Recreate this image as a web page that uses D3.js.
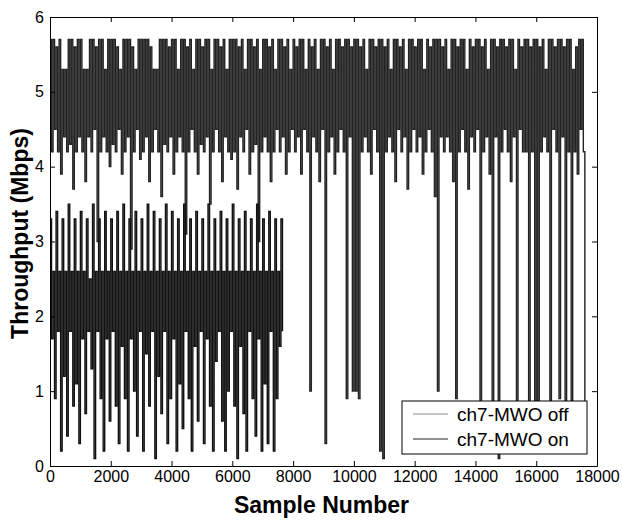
<!doctype html>
<html lang="en">
  <head>
    <meta charset="utf-8">
    <title>Throughput vs Sample Number</title>
    <style>
      body{
        margin: 0;
        background: #fff;
      }
      #chart text{
        font-family: "Liberation Sans", Arial, sans-serif;
        fill: #000;
      }
      #chart .tick text{
        font-size: 16px;
      }
    </style>
  </head>
  <body>
    <svg id="chart" width="622" height="525"></svg>
    <script src="https://d3js.org/d3.v7.min.js"></script>
    <script>

      //values every 50 samples
      var sampleStep = 50;

      //ch7-MWO off, samples 0 .. 17600 (Mbps)
      var mwoOff = [
        5.7,4.2,5.7,4.5,5.6,4.2,5.7,3.9,5.3,4.4,5.3,4.2,5.7,4.3,5.7,3.7,5.6,4.2,5.7,4.4,
        5.7,4.2,5.3,3.8,5.3,4.4,5.7,4.2,5.7,4.5,5.6,3.0,5.7,4.2,5.7,4.4,5.3,4.2,5.7,4.0,
        5.7,4.3,5.7,4.2,5.6,4.5,5.3,3.9,5.7,4.2,5.7,4.4,5.7,2.9,5.6,4.2,5.3,4.5,5.7,4.1,
        5.7,4.2,5.7,4.4,5.7,3.8,5.6,4.2,5.3,4.5,5.3,4.2,5.7,3.6,5.7,4.3,5.7,4.2,5.6,4.4,
        5.7,3.9,5.7,4.2,5.3,4.4,5.7,4.2,5.7,3.1,5.6,4.2,5.7,4.5,5.3,4.2,5.7,3.9,5.7,4.3,
        5.6,4.2,5.7,4.4,5.7,3.5,5.3,4.2,5.7,4.5,5.7,4.2,5.6,3.8,5.7,4.4,5.3,4.2,5.7,4.1,
        5.7,4.2,5.7,3.7,5.6,4.4,5.7,4.2,5.3,4.5,5.7,3.9,5.7,4.2,5.6,4.3,5.7,3.0,5.3,4.2,
        5.7,4.4,5.7,4.2,5.6,3.8,5.7,4.2,5.3,4.5,5.7,4.2,5.7,4.4,5.6,3.9,5.7,4.2,5.3,4.5,
        5.7,4.2,5.6,4.4,5.7,3.9,5.7,4.5,5.3,4.2,5.7,1.0,5.6,4.4,5.7,4.2,5.3,3.8,5.7,4.5,
        5.7,0.3,5.6,4.2,5.7,4.4,5.3,3.9,5.7,4.2,5.7,4.5,5.6,4.2,5.7,0.9,5.7,4.4,5.6,1.0,
        5.7,1.0,5.7,0.9,5.6,4.2,5.7,4.4,5.3,4.2,5.7,3.9,5.7,4.5,5.6,4.2,5.7,0.2,5.7,0.1,
        5.6,4.2,5.7,4.4,5.3,4.2,5.7,3.8,5.7,4.5,5.6,4.2,5.7,4.4,5.3,3.7,5.7,4.2,5.7,4.5,
        5.6,4.2,5.7,4.4,5.7,3.9,5.3,4.2,5.7,4.5,5.6,4.2,5.7,3.6,5.7,1.0,5.7,4.4,5.6,4.2,
        5.7,4.4,5.3,4.2,5.7,3.8,5.7,0.9,5.6,4.2,5.7,4.5,5.7,4.2,5.3,3.7,5.7,4.4,5.6,4.2,
        5.7,4.5,5.7,0.5,5.6,4.2,5.7,4.4,5.3,3.9,5.7,0.7,5.7,4.4,5.6,0.1,5.7,4.2,5.7,4.5,
        5.6,4.2,5.7,3.8,5.7,4.4,5.3,0.8,5.7,4.5,5.6,4.2,5.7,4.2,5.7,0.6,5.6,4.2,5.7,0.4,
        5.7,0.8,5.6,4.2,5.7,4.4,5.3,4.2,5.7,0.3,5.7,4.5,5.6,4.2,5.7,0.9,5.7,4.4,5.6,0.2,
        5.7,4.2,5.7,0.6,5.3,4.2,5.6,3.9,5.7,4.5,5.7,4.2,0.4
      ];

      //ch7-MWO on, samples 0 .. 7650 (Mbps)
      var mwoOn = [
        3.3,1.7,2.6,0.9,3.4,1.8,2.6,0.2,3.3,1.2,2.6,0.4,3.5,1.8,2.6,0.8,3.3,1.1,2.6,0.3,
        3.4,1.7,2.6,0.7,3.3,1.8,2.5,1.3,3.5,0.1,2.6,1.8,3.3,0.9,2.6,0.2,3.4,1.7,2.6,0.6,
        3.3,1.8,2.6,0.8,3.4,0.3,2.6,1.6,3.5,0.9,2.6,0.2,3.3,1.7,2.6,1.0,3.4,0.4,2.6,1.8,
        3.3,0.2,2.6,1.5,3.5,0.8,2.6,1.8,3.4,0.1,2.6,1.2,3.3,0.7,2.6,1.8,3.5,0.3,2.6,0.9,
        3.4,1.7,2.6,0.2,3.3,1.1,2.6,0.5,3.5,1.8,2.6,0.9,3.3,0.2,2.6,1.6,3.4,0.6,2.6,1.8,
        3.3,0.3,2.6,1.7,3.5,0.8,2.6,0.2,3.3,1.4,2.6,1.8,3.4,0.6,2.6,0.2,3.3,1.0,2.6,1.8,
        3.5,0.8,2.6,0.1,3.3,1.6,2.6,0.7,3.4,0.2,2.6,1.8,3.3,0.9,2.6,0.4,3.5,1.7,2.6,0.2,
        3.3,1.1,2.6,0.3,3.4,1.8,2.6,0.2,3.3,0.9,2.6,1.6,3.3,1.8
      ];

      var seriesNames = ["ch7-MWO off", "ch7-MWO on"];
      var seriesColors = ["#222222", "#111111"];
      var legendColors = ["#8a8a8a", "#222222"];

      var xTicks = [0, 2000, 4000, 6000, 8000, 10000, 12000, 14000, 16000, 18000];
      var yTicks = [0, 1, 2, 3, 4, 5, 6];

      //plot box in pixels
      var boxLeft = 50, boxRight = 597, boxTop = 17, boxBottom = 466;

      var svg = d3.select("#chart");

      var x = d3.scaleLinear().domain([0, 18000]).range([boxLeft, boxRight]);
      var y = d3.scaleLinear().domain([0, 6]).range([boxBottom, boxTop]);

      svg.append("clipPath")
        .attr("id", "plotclip")
        .append("rect")
        .attr("x", boxLeft)
        .attr("y", boxTop)
        .attr("width", boxRight - boxLeft)
        .attr("height", boxBottom - boxTop);

      //step curve: at this density every sample becomes a vertical stroke, like the original trace
      var line = d3.line()
        .x(function(d, i){ return x(i * sampleStep); })
        .y(function(d){ return y(d); })
        .curve(d3.curveStepAfter);

      svg.append("g")
        .attr("clip-path", "url(#plotclip)")
        .selectAll("path")
        .data([mwoOff, mwoOn])
        .enter()
        .append("path")
        .attr("d", function(d){ return line(d); })
        .attr("fill", "none")
        .attr("stroke", function(d, i){ return seriesColors[i]; })
        .attr("stroke-width", 1.4);

      //axes, ticks point inwards like matlab
      var fmt = d3.format("d");

      svg.append("g")
        .attr("transform", "translate(0," + boxBottom + ")")
        .call(d3.axisBottom(x).tickValues(xTicks).tickFormat(fmt).tickSizeInner(-5).tickSizeOuter(0).tickPadding(5));

      svg.append("g")
        .attr("transform", "translate(0," + boxTop + ")")
        .call(d3.axisTop(x).tickValues(xTicks).tickFormat("").tickSizeInner(-5).tickSizeOuter(0));

      svg.append("g")
        .attr("transform", "translate(" + boxLeft + ",0)")
        .call(d3.axisLeft(y).tickValues(yTicks).tickFormat(fmt).tickSizeInner(-5).tickSizeOuter(0).tickPadding(6));

      svg.append("g")
        .attr("transform", "translate(" + boxRight + ",0)")
        .call(d3.axisRight(y).tickValues(yTicks).tickFormat("").tickSizeInner(-5).tickSizeOuter(0));

      svg.selectAll(".domain, .tick line")
        .attr("stroke", "#000")
        .attr("stroke-width", 1);

      svg.selectAll(".tick text")
        .attr("font-size", null)
        .attr("font-family", null);

      //axis titles
      svg.append("text")
        .attr("x", (boxLeft + boxRight) / 2 - 2)
        .attr("y", 513)
        .attr("text-anchor", "middle")
        .style("font-size", "23px")
        .style("font-weight", "bold")
        .text("Sample Number");

      svg.append("text")
        .attr("transform", "translate(28," + ((boxTop + boxBottom) / 2 - 8) + ") rotate(-90)")
        .attr("text-anchor", "middle")
        .style("font-size", "23px")
        .style("font-weight", "bold")
        .text("Throughput (Mbps)");

      //legend
      var legend = svg.append("g");

      legend.append("rect")
        .attr("x", 402)
        .attr("y", 401)
        .attr("width", 185)
        .attr("height", 53)
        .attr("fill", "#fff")
        .attr("stroke", "#000")
        .attr("stroke-width", 1);

      var legendItems = legend.selectAll("g.item")
        .data(seriesNames)
        .enter()
        .append("g")
        .attr("class", "item")
        .attr("transform", function(d, i){ return "translate(0," + (414 + i * 25) + ")"; });

      legendItems.append("line")
        .attr("x1", 413)
        .attr("x2", 448)
        .attr("stroke", function(d, i){ return legendColors[i]; })
        .attr("stroke-width", 1);

      legendItems.append("text")
        .attr("x", 457)
        .attr("y", 7)
        .style("font-size", "19px")
        .text(function(d){ return d; });

    </script>
  </body>
</html>
